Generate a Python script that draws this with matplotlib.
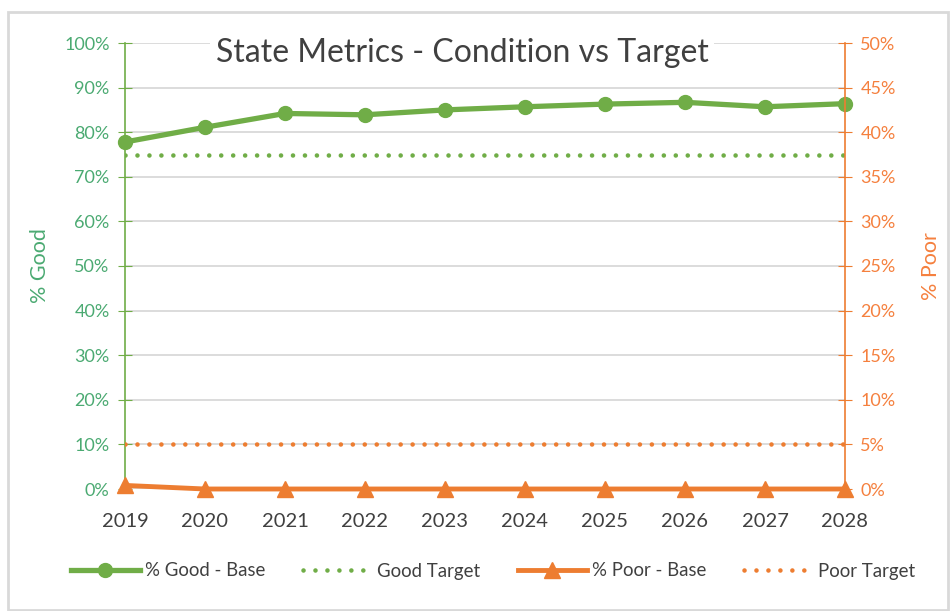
import matplotlib
matplotlib.use("Agg")
from matplotlib import pyplot as plt
from matplotlib.patches import Rectangle
from matplotlib.ticker import PercentFormatter
import numpy as np

years = [2019, 2020, 2021, 2022, 2023, 2024, 2025, 2026, 2027, 2028]
good_base = [0.778, 0.811, 0.842, 0.839, 0.850, 0.857, 0.863, 0.867, 0.857, 0.864]
good_target = [0.75] * 10
poor_base = [0.004, 0.0, 0.0, 0.0, 0.0, 0.0, 0.0, 0.0, 0.0, 0.0]
poor_target = [0.05] * 10

verde = '#70AD47'
laranja = '#ED7D31'
verde_txt = '#4BAA72'
laranja_txt = '#F5803E'
cinza_txt = '#404040'

plt.rcParams['font.family'] = ['Lato', 'DejaVu Sans']

fig = plt.figure(figsize=(9.52, 6.11), dpi=100)
W, H = 952, 611
fig.patches.append(Rectangle((8 / W, 1 - 610 / H), 940 / W, 598 / H, transform=fig.transFigure,
                             fill=False, edgecolor='#D9D9D9', linewidth=2))

ax = fig.add_axes([125 / W, 1 - 489 / H, 720 / W, 446 / H])
ax2 = ax.twinx()

ax.set_xlim(2019, 2028)
ax.set_ylim(0, 1)
ax2.set_ylim(0, 0.5)
ax.set_xticks(years)
ax.set_yticks(np.arange(0, 1.01, 0.1))
ax2.set_yticks(np.arange(0, 0.51, 0.05))
ax.yaxis.set_major_formatter(PercentFormatter(1, decimals=0))
ax2.yaxis.set_major_formatter(PercentFormatter(1, decimals=0))

ax.grid(axis='y', color='#D9D9D9', linewidth=1.3)
ax.set_axisbelow(True)

for s in ['top', 'bottom']:
    ax.spines[s].set_visible(False)
    ax2.spines[s].set_visible(False)
ax.spines['right'].set_visible(False)
ax2.spines['left'].set_visible(False)
ax.spines['left'].set_color(verde)
ax.spines['left'].set_linewidth(1.2)
ax2.spines['right'].set_color(laranja)
ax2.spines['right'].set_linewidth(1.2)

ax.tick_params(axis='y', direction='inout', length=10, colors=verde, labelcolor=verde_txt, labelsize=13, pad=6)
ax2.tick_params(axis='y', direction='inout', length=10, colors=laranja, labelcolor=laranja_txt, labelsize=13, pad=6)
ax.tick_params(axis='x', length=0, labelcolor=cinza_txt, labelsize=14.5, pad=17)

ax.set_ylabel('% Good', color=verde_txt, fontsize=15.5, labelpad=10)
ax2.set_ylabel('% Poor', color=laranja_txt, fontsize=15.5, labelpad=18)

# linhas
pontilhado = (0, (0.01, 2.6))
l1, = ax.plot(years, good_base, '-o', color=verde, linewidth=3.8, markersize=10, clip_on=False, zorder=5,
              label='% Good - Base')
l2, = ax.plot(years, good_target, color=verde, linewidth=3.3, linestyle=pontilhado,
              dash_capstyle='round', label='Good Target')
l3, = ax2.plot(years, poor_base, '-^', color=laranja, linewidth=3.5, markersize=11, clip_on=False, zorder=5,
               label='% Poor - Base')
l4, = ax2.plot(years, poor_target, color=laranja, linewidth=3.3, linestyle=pontilhado,
               dash_capstyle='round', label='Poor Target')

ax.text(0.468, 0.978, 'State Metrics - Condition vs Target', transform=ax.transAxes,
        ha='center', va='center', fontsize=23, color=cinza_txt, zorder=10,
        bbox=dict(facecolor='white', edgecolor='none', pad=4))

fig.legend(handles=[l1, l2, l3, l4], loc='center', bbox_to_anchor=(0.518, 1 - 571 / H), ncol=4,
           frameon=False, fontsize=13.4, handlelength=3.7, columnspacing=2.0, handletextpad=0.3,
           labelcolor=cinza_txt)

plt.savefig('out.png', dpi=100)
